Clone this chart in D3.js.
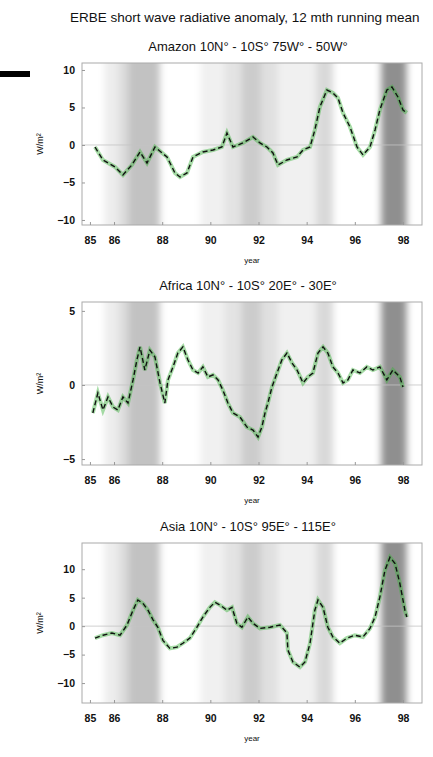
<!DOCTYPE html>
<html lang="en">
<head>
<meta charset="UTF-8">
<title>ERBE short wave radiative anomaly</title>
<script src="https://d3js.org/d3.v7.min.js"></script>
<style>
  body { margin: 0; background: #fff; }
  svg text { font-family: "Liberation Sans", Arial, sans-serif; fill: #111; }
</style>
</head>
<body>
<svg id="chart" width="433" height="757"></svg>
<script>
// ---- data ----
const panelTitles = ["Amazon 10N\u00b0 - 10S\u00b0 75W\u00b0 - 50W\u00b0",
                     "Africa 10N\u00b0 - 10S\u00b0 20E\u00b0 - 30E\u00b0",
                     "Asia 10N\u00b0 - 10S\u00b0 95E\u00b0 - 115E\u00b0"];
const xTicks = [85, 86, 88, 90, 92, 94, 96, 98];

const amazonYear = [85.21, 85.54, 86.04, 86.37, 86.74, 87.08, 87.37, 87.70, 88.20, 88.53, 88.74, 89.03, 89.28, 89.69, 90.11,
  90.48, 90.69, 90.94, 91.35, 91.77, 92.06, 92.35, 92.60, 92.81, 93.18, 93.60, 93.85, 94.14, 94.34, 94.55, 94.84, 95.09,
  95.30, 95.51, 95.80, 96.09, 96.34, 96.63, 96.84, 97.04, 97.33, 97.54, 97.79, 98.00, 98.16];
const amazonValue = [-0.27, -2.0, -2.93, -4.0, -2.67, -0.93, -2.4, -0.27, -1.6, -3.73, -4.27, -3.73, -1.6, -0.93, -0.67,
  -0.27, 1.6, -0.27, 0.27, 1.07, 0.27, -0.27, -1.07, -2.67, -2.0, -1.6, -0.67, -0.27, 2.0, 5.07, 7.33, 6.93,
  6.27, 4.27, 2.4, -0.27, -1.33, -0.27, 2.0, 4.67, 7.33, 7.73, 6.4, 4.67, 4.27];

const africaYear = [85.12, 85.33, 85.54, 85.75, 85.96, 86.16, 86.37, 86.58, 86.79, 86.95, 87.08, 87.28, 87.49, 87.70, 87.91,
  88.11, 88.24, 88.45, 88.65, 88.86, 89.07, 89.28, 89.49, 89.69, 89.90, 90.11, 90.32, 90.52, 90.73, 90.94, 91.23, 91.52,
  91.77, 91.98, 92.14, 92.27, 92.39, 92.56, 92.77, 92.97, 93.18, 93.39, 93.60, 93.85, 94.05, 94.26, 94.47, 94.68, 94.88,
  95.09, 95.30, 95.51, 95.71, 95.92, 96.21, 96.50, 96.75, 97.04, 97.33, 97.58, 97.87, 98.00];
const africaValue = [-1.89, -0.54, -1.69, -0.81, -1.49, -1.69, -0.81, -1.22, 0.34, 1.69, 2.57, 1.01, 2.36, 1.89, 0.14,
  -1.22, 0.34, 1.22, 2.16, 2.57, 1.69, 1.01, 0.81, 1.22, 0.54, 0.68, 0.34, -0.34, -1.22, -1.89, -2.16, -2.84,
  -3.04, -3.51, -2.84, -1.89, -1.22, -0.14, 0.81, 1.69, 2.16, 1.49, 1.01, 0.14, 0.54, 0.81, 2.16, 2.57, 2.16,
  1.22, 0.81, 0.14, 0.34, 1.01, 0.81, 1.22, 1.01, 1.22, 0.34, 1.01, 0.54, -0.14];

const asiaYear = [85.21, 85.54, 85.91, 86.25, 86.54, 86.79, 86.99, 87.20, 87.41, 87.62, 87.82, 88.03, 88.32, 88.61, 88.86,
  89.15, 89.44, 89.69, 89.98, 90.19, 90.40, 90.69, 90.90, 91.10, 91.31, 91.56, 91.77, 92.06, 92.48, 92.89, 93.18, 93.22,
  93.43, 93.72, 93.93, 94.14, 94.34, 94.47, 94.68, 94.88, 95.09, 95.38, 95.67, 96.00, 96.34, 96.63, 96.84, 97.04, 97.25,
  97.46, 97.67, 97.87, 98.08, 98.16];
const asiaValue = [-2.1, -1.6, -1.2, -1.6, 0.2, 2.8, 4.6, 4.0, 2.8, 1.1, -0.2, -2.5, -3.9, -3.7, -3.0,
  -2.1, -0.2, 1.6, 3.3, 4.2, 3.7, 2.8, 3.3, 0.5, -0.2, 1.6, 0.5, -0.4, -0.2, 0.2, -1.2, -4.2,
  -6.3, -7.2, -6.3, -3.0, 2.8, 4.6, 3.3, -0.2, -1.9, -3.0, -2.1, -1.6, -1.9, -0.4, 1.6, 5.1, 9.8,
  12.1, 11.0, 7.5, 2.8, 1.6];

// grey background bands (El Nino periods), darkness as opacity of black
const shadeFrom  = [85.6, 86.2, 86.6, 89.6, 90.6, 91.3, 92.1, 92.8, 94.4, 97.1];
const shadeTo    = [86.2, 86.6, 87.9, 90.6, 91.3, 92.1, 92.8, 94.4, 95.1, 98.15];
const shadeLevel = [0.07, 0.14, 0.24, 0.06, 0.11, 0.2, 0.12, 0.06, 0.15, 0.44];

const yTicksList = [[-10, -5, 0, 5, 10], [-5, 0, 5], [-10, -5, 0, 5, 10]];
const yDomains = [[-10.67, 10.93], [-5.4, 5.6], [-13.5, 14.6]];
const seriesYear = [amazonYear, africaYear, asiaYear];
const seriesValue = [amazonValue, africaValue, asiaValue];

// ---- layout ----
const plotLeft = 82, plotRight = 422;
const plotTops = [63, 302, 543];
const plotBottoms = [225, 465, 703];

const svg = d3.select("#chart");

const defs = svg.append("defs");
defs.append("filter")
    .attr("id", "soft")
    .attr("x", "-20%").attr("width", "140%")
    .append("feGaussianBlur")
    .attr("stdDeviation", "3.5 0");

svg.append("text")
    .attr("x", 70).attr("y", 22)
    .attr("font-size", 13.5)
    .text("ERBE short wave radiative anomaly, 12 mth running mean");

// the little black bar at upper left
svg.append("rect")
    .attr("x", 0).attr("y", 71).attr("width", 30).attr("height", 6)
    .attr("fill", "#000");

const xScale = d3.scaleLinear()
    .domain([84.67, 98.79])
    .range([plotLeft, plotRight]);

panelTitles.forEach((title, i) => {
    const top = plotTops[i], bottom = plotBottoms[i];
    const yScale = d3.scaleLinear().domain(yDomains[i]).range([bottom, top]);
    const g = svg.append("g");

    defs.append("clipPath").attr("id", "clip" + i)
        .append("rect")
        .attr("x", plotLeft).attr("y", top)
        .attr("width", plotRight - plotLeft).attr("height", bottom - top);

    // shaded bands
    g.append("g")
        .attr("clip-path", "url(#clip" + i + ")")
        .append("g")
        .attr("filter", "url(#soft)")
        .selectAll("rect")
        .data(shadeFrom)
        .join("rect")
        .attr("x", d => xScale(d))
        .attr("width", (d, k) => xScale(shadeTo[k]) - xScale(d))
        .attr("y", top)
        .attr("height", bottom - top)
        .attr("fill", "#000")
        .attr("fill-opacity", (d, k) => shadeLevel[k]);

    // zero line
    g.append("line")
        .attr("x1", plotLeft).attr("x2", plotRight)
        .attr("y1", yScale(0)).attr("y2", yScale(0))
        .attr("stroke", "#c4c4c4").attr("stroke-width", 0.8);

    // frame
    g.append("rect")
        .attr("x", plotLeft).attr("y", top)
        .attr("width", plotRight - plotLeft).attr("height", bottom - top)
        .attr("fill", "none").attr("stroke", "#aaa").attr("stroke-width", 1);

    const pts = seriesYear[i].map((yr, k) => ({x: yr, y: seriesValue[i][k]}));
    const line = d3.line().x(d => xScale(d.x)).y(d => yScale(d.y));

    g.append("path")
        .datum(pts)
        .attr("fill", "none")
        .attr("stroke", "#3cb43c")
        .attr("stroke-opacity", 0.45)
        .attr("stroke-width", 4)
        .attr("d", line);

    g.append("path")
        .datum(pts)
        .attr("fill", "none")
        .attr("stroke", "#111")
        .attr("stroke-width", 1.4)
        .attr("stroke-dasharray", "5,3")
        .attr("d", line);

    // axes
    const xAxis = d3.axisBottom(xScale)
        .tickValues(xTicks)
        .tickSize(-3)
        .tickPadding(12)
        .tickFormat(d3.format("d"));
    const gx = g.append("g")
        .attr("transform", "translate(0," + bottom + ")")
        .call(xAxis);
    gx.select(".domain").remove();
    gx.selectAll("line").attr("stroke", "#999");
    gx.selectAll("text").attr("font-size", 10.5).attr("font-weight", "bold");

    const yAxis = d3.axisLeft(yScale)
        .tickValues(yTicksList[i])
        .tickSize(-3)
        .tickPadding(7);
    const gy = g.append("g")
        .attr("transform", "translate(" + plotLeft + ",0)")
        .call(yAxis);
    gy.select(".domain").remove();
    gy.selectAll("line").attr("stroke", "#999");
    gy.selectAll("text").attr("font-size", 10.5).attr("font-weight", "bold");

    // titles and labels
    g.append("text")
        .attr("x", (plotLeft + plotRight) / 2 - 4)
        .attr("y", top - 12)
        .attr("text-anchor", "middle")
        .attr("font-size", 13)
        .text(title);

    g.append("text")
        .attr("x", (plotLeft + plotRight) / 2)
        .attr("y", bottom + 38)
        .attr("text-anchor", "middle")
        .attr("font-size", 8)
        .text("year");

    g.append("text")
        .attr("transform", "translate(43," + (top + bottom) / 2 + ") rotate(-90)")
        .attr("text-anchor", "middle")
        .attr("font-size", 9)
        .text("W/m\u00b2");
});
</script>
</body>
</html>
